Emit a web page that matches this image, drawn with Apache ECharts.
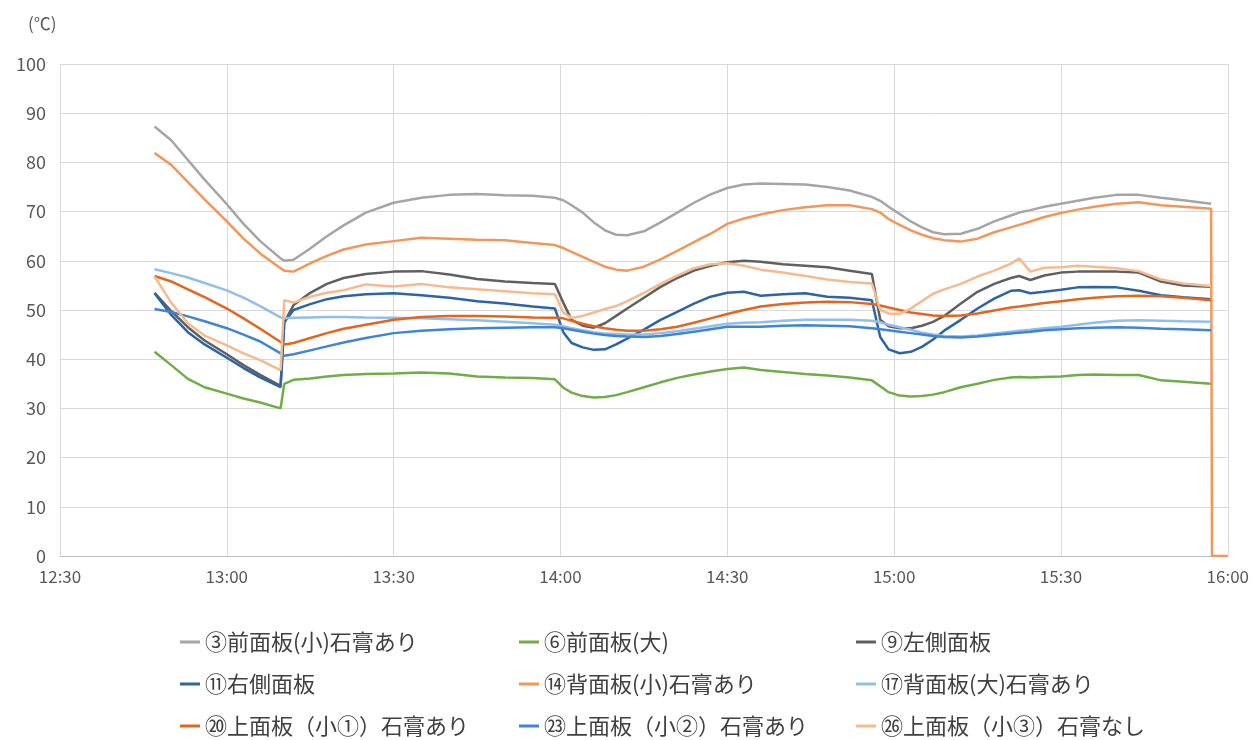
<!DOCTYPE html>
<html><head><meta charset="utf-8">
<script src="https://cdn.jsdelivr.net/npm/echarts@6/dist/echarts.min.js"></script>
<style>html,body{margin:0;padding:0;background:#fff}#c{width:1252px;height:740px}</style>
</head><body><div id="c"></div>
<script>
const times = ['12:47','12:50','12:53','12:56','13:00','13:03','13:06','13:09:40','13:10:20','13:12',
'13:15','13:18','13:21','13:25','13:30','13:35','13:40','13:45','13:50','13:55',
'13:59','14:00:30','14:02','14:04','14:06','14:08','14:10','14:12','14:15','14:18',
'14:21','14:24','14:27','14:30','14:33','14:36','14:40','14:44','14:48','14:52',
'14:56','14:57:30','14:59','15:01','15:03','15:05','15:07','15:09','15:12','15:15',
'15:18','15:21','15:22:30','15:24:30','15:27','15:30','15:33','15:36','15:40','15:44',
'15:48','15:52','15:57','15:57:10','16:00'];

const names = ['③前面板(小)石膏あり','⑥前面板(大)','⑨左側面板','⑪右側面板','⑭背面板(小)石膏あり','⑰背面板(大)石膏あり','⑳上面板（小①）石膏あり','㉓上面板（小②）石膏あり','㉖上面板（小③）石膏なし'];

const s03 = [87.3,84.5,80.5,76.5,71.5,67.5,64,60.5,60,60.2,62.5,65,67.2,69.8,71.8,72.8,73.4,73.6,73.3,73.2,72.8,72.3,71.3,69.8,67.8,66.2,65.3,65.2,66,67.8,69.8,71.8,73.5,74.8,75.5,75.7,75.6,75.5,75,74.3,73,72.2,71,69.5,68,66.8,65.8,65.4,65.5,66.5,68,69.2,69.8,70.3,71,71.6,72.2,72.8,73.4,73.4,72.8,72.3,71.6];
const s06 = [41.5,38.8,36,34.3,33,32,31.2,30,35,35.8,36.1,36.5,36.8,37,37.1,37.3,37.1,36.5,36.3,36.2,35.9,34.2,33.2,32.5,32.2,32.3,32.7,33.3,34.3,35.3,36.2,36.9,37.5,38,38.3,37.8,37.4,37,36.7,36.3,35.7,34.5,33.3,32.6,32.4,32.5,32.8,33.3,34.3,35,35.8,36.3,36.4,36.3,36.4,36.5,36.8,36.9,36.8,36.8,35.7,35.4,35];
const s09 = [53.5,49.8,46.5,43.8,41,38.8,36.8,34.6,47.5,51,53.5,55.3,56.5,57.3,57.8,57.9,57.2,56.3,55.8,55.5,55.3,51.5,48,46.8,46.4,47.3,48.8,50.3,52.5,54.7,56.5,58,59,59.7,60,59.8,59.3,59,58.7,58,57.3,48,46.7,46.3,46.3,46.8,47.6,48.8,51.3,53.7,55.3,56.5,56.9,56.1,57,57.6,57.8,57.8,57.8,57.6,55.8,55,54.7];
const s11 = [53.4,49,45.5,43,40.3,38.2,36.3,34.3,47.5,50,51.2,52.2,52.8,53.2,53.4,53,52.5,51.8,51.3,50.7,50.3,45.5,43.3,42.4,41.9,42,43,44.2,46,48,49.6,51.3,52.7,53.5,53.7,52.9,53.2,53.4,52.7,52.5,52,44.5,42,41.2,41.5,42.5,44,45.8,48,50.3,52.3,53.9,54,53.4,53.7,54.1,54.6,54.7,54.6,53.9,53,52.6,52.2];
const s14 = [81.9,79.5,76,72.5,68,64.5,61.5,58.5,58,57.8,59.5,61,62.3,63.3,64,64.7,64.5,64.3,64.2,63.6,63.2,62.6,61.8,60.8,59.8,58.8,58.2,58,58.8,60.3,62,63.8,65.5,67.5,68.6,69.4,70.3,70.9,71.3,71.3,70.5,69.8,68.5,67.3,66.2,65.3,64.6,64.2,63.9,64.5,65.8,66.8,67.3,68,68.9,69.7,70.4,71,71.6,71.9,71.3,71,70.6,0,0];
const s17 = [58.3,57.5,56.6,55.5,54,52.5,50.8,48.5,48.3,48.4,48.5,48.6,48.6,48.5,48.4,48.3,48.1,47.9,47.6,47.3,47,46.7,46.3,45.9,45.5,45.2,45.1,45,45,45.3,45.7,46.2,46.7,47.2,47.4,47.5,47.8,48,48,48,47.8,47.5,47,46.5,46,45.4,45,44.7,44.6,44.8,45.2,45.6,45.8,46,46.3,46.6,47,47.4,47.8,47.9,47.8,47.7,47.6];
const s20 = [56.9,55.8,54.2,52.6,50.3,48.3,46.2,43.5,43,43.3,44.3,45.3,46.2,47,48,48.6,48.8,48.8,48.7,48.5,48.4,48.3,47.8,47.2,46.7,46.3,46,45.8,45.8,46.1,46.6,47.4,48.3,49.2,50,50.7,51.2,51.5,51.7,51.6,51.2,50.9,50.5,50,49.5,49.2,48.9,48.8,48.9,49.3,49.9,50.5,50.7,51,51.4,51.8,52.2,52.5,52.8,52.9,52.8,52.5,52];
const s23 = [50.2,49.6,48.7,47.7,46.3,45,43.6,41.2,40.7,41,41.8,42.6,43.4,44.3,45.3,45.8,46.1,46.3,46.4,46.5,46.5,46.3,46,45.6,45.2,44.9,44.7,44.6,44.5,44.7,45.1,45.6,46.1,46.6,46.6,46.6,46.8,46.9,46.8,46.7,46.3,46.1,45.9,45.6,45.3,45,44.7,44.5,44.4,44.6,44.9,45.2,45.4,45.6,45.9,46.1,46.3,46.4,46.5,46.4,46.2,46.1,45.9];
const s26 = [56.8,51.5,47.3,44.8,42.8,41.2,39.8,37.8,52,51.5,52.7,53.5,54,55.2,54.8,55.3,54.6,54.2,53.8,53.4,53.2,49.5,48.4,48.8,49.5,50.2,50.8,51.8,53.5,55.3,57,58.5,59.3,59.5,59,58.2,57.6,56.9,56.2,55.7,55.4,50,49.3,49.2,50.3,51.8,53.3,54.2,55.3,56.8,58,59.4,60.5,57.8,58.6,58.7,59,58.8,58.5,57.9,56.2,55.4,54.9];

const colors = ['#A5A5A5','#70AD47','#606060','#2C64A6','#F2965A','#92BEEA','#E2661E','#3F84D6','#F7B98E'];
const seriesValues = [s03,s06,s09,s11,s14,s17,s20,s23,s26];
const xTickLabels = ['12:30','13:00','13:30','14:00','14:30','15:00','15:30','16:00'];

function toMin(t){const p=t.split(':').map(Number);return p[0]*60+p[1]+(p[2]||0)/60;}
const xs = times.map(toMin);
const xMin = toMin(xTickLabels[0]), xMax = toMin(xTickLabels[xTickLabels.length-1]);

const chart = echarts.init(document.getElementById('c'), null, {renderer:'canvas'});
const font = '"Noto Sans CJK JP","Noto Sans",sans-serif';
const legendCol = (idx, left) => ({
  orient:'vertical', left:left, top:631, padding:0, itemGap:20, itemWidth:20, itemHeight:3,
  icon:'rect', data: idx.map(i=>names[i]),
  textStyle:{fontFamily:font, fontSize:22, color:'#404040', lineHeight:22}
});
chart.setOption({
  animation:false,
  color: colors,
  grid:{left:60, right:24, top:64, bottom:184, containLabel:false},
  graphic:[{type:'text', left:28, top:15, style:{text:'(℃)', fontSize:17, fill:'#595959', fontFamily:font}}],
  legend:[legendCol([0,3,6],180), legendCol([1,4,7],519), legendCol([2,5,8],856)],
  xAxis:{type:'value', min:xMin, max:xMax, interval:30,
    axisLine:{show:true, lineStyle:{color:'#BFBFBF', width:1}}, axisTick:{show:false},
    splitLine:{show:true, lineStyle:{color:'#D9D9D9', width:1}},
    axisLabel:{margin:12, fontSize:17, color:'#595959', fontFamily:font,
      formatter:v=>xTickLabels[Math.round((v-xMin)/30)]||''}},
  yAxis:{type:'value', min:0, max:100, interval:10,
    axisLine:{show:false}, axisTick:{show:false},
    splitLine:{show:true, lineStyle:{color:'#D9D9D9', width:1}},
    axisLabel:{margin:14, fontSize:18, color:'#595959', fontFamily:font}},
  series: seriesValues.map((vals,i)=>({
    name:names[i], type:'line', showSymbol:false, symbol:'none', smooth:false,
    lineStyle:{width:2.5, color:colors[i]}, itemStyle:{color:colors[i]},
    data: vals.map((v,j)=>[xs[j], v])
  }))
});
</script></body></html>
